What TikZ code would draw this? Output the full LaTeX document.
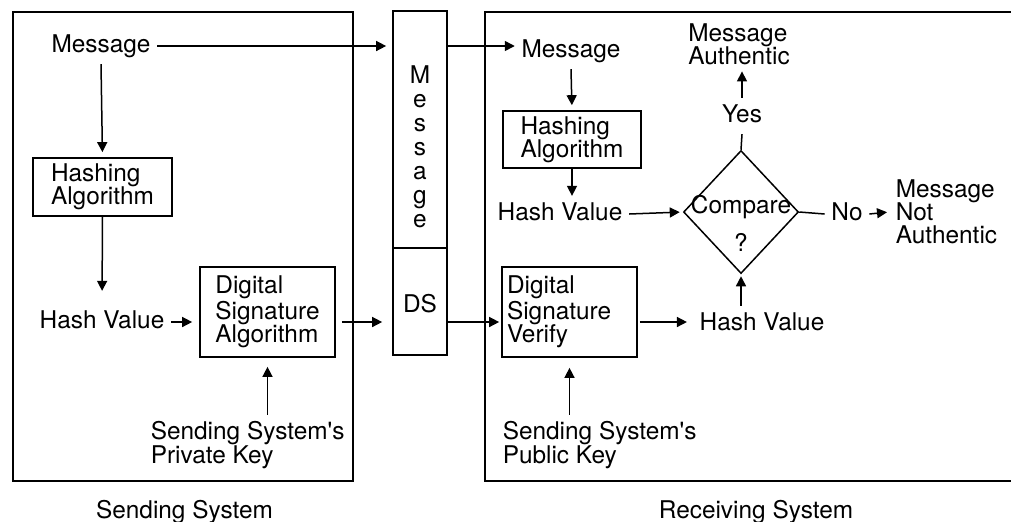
\documentclass[tikz,border=0pt]{standalone}
\usepackage{fontspec}
\setmainfont{TeX Gyre Heros}
\usetikzlibrary{arrows.meta,shapes.geometric}

\begin{document}
\begin{tikzpicture}[x=0.5pt,y=-0.5pt,
	font=\fontsize{12.2}{11.6}\selectfont,
	>={Triangle[length=5pt,width=5pt]},
	line width=0.75pt,
	txt/.style={inner sep=3pt,text height=8.8pt,text depth=2.6pt},
	mtxt/.style={inner sep=3pt,align=left},
	box/.style={draw,line width=0.85pt,inner sep=0pt}]
				\useasboundingbox (0,0) rectangle (1011,521);
				%draw frames
				\draw[line width=0.85pt] (13,12) rectangle (353,481);
				\draw[line width=0.85pt] (1015,12) -- (485,12) -- (485,481) -- (1015,481);
				%draw sending system
				\node[txt] (msgS) at (101,46) {Message};
				\node[box,minimum width=69.5pt,minimum height=29pt,align=left] (hashS) at (102.5,187) {Hashing\\Algorithm};
				\node[txt] (hvS) at (102,322) {Hash Value};
				\node[box,minimum width=67.5pt,minimum height=45pt,align=left] (dsa) at (267.5,312) {Digital\\Signature\\Algorithm};
				\node[mtxt,anchor=west] (privkey) at (144,445) {Sending System\textquotesingle s\\Private Key};
				\node (sendlbl) at (184.5,512) {Sending System};
				%draw message and signature
				\node[box,minimum width=27pt,minimum height=118.5pt] (msgcol) at (420,129.5) {};
				\node[align=center,font=\fontsize{12.2}{12}\selectfont] (msgtxt) at (420,147) {M\\e\\s\\s\\a\\g\\e};
				\node[box,minimum width=27pt,minimum height=53.5pt,text height=11.5pt] (dscol) at (420,301.5) {DS};
				%draw receiving system
				\node[txt] (msgR) at (571,51) {Message};
				\node[box,minimum width=69pt,minimum height=28.5pt,align=left] (hashR) at (572,139.5) {Hashing\\Algorithm};
				\node[txt] (hvR) at (560,214) {Hash Value};
				\node[draw,diamond,inner sep=0pt,minimum width=57.5pt,minimum height=61.5pt] (cmp) at (741,212) {};
				\node[txt] (cmptxt) at (741,207) {Compare};
				\node[txt] (cmpq) at (741,245) {?};
				\node[txt] (yes) at (742,116) {Yes};
				\node[mtxt] (auth) at (739,44) {Message\\Authentic};
				\node[txt] (no) at (847,214) {No};
				\node[mtxt,anchor=west] (notauth) at (889,212) {Message\\Not\\Authentic};
				\node[box,minimum width=67.5pt,minimum height=45pt,text width=62.5pt,inner xsep=2.5pt,align=left] (dsv) at (569.5,312) {Digital\\Signature\\Verify};
				\node[txt] (hvL) at (762,324) {Hash Value};
				\node[mtxt,anchor=west] (pubkey) at (496,445) {Sending System\textquotesingle s\\Public Key};
				\node (recvlbl) at (756,512) {Receiving System};
				%draw arrows
				\draw[->,shorten >=3pt] (msgS.east) -- (msgS.east -| msgcol.west);
				\draw[->,shorten >=2.5pt] (msgS.south) -- (hashS.north);
				\draw[->,shorten >=6.5pt] (hashS.south) -- (hvS.north);
				\draw[->,shorten >=3.5pt] (hvS.east) -- (hvS.east -| dsa.west);
				\draw[->,shorten <=3pt,shorten >=5pt] (dsa.east |- hvS.east) -- (dscol.west |- hvS.east);
				\draw[->,shorten >=4.5pt] (privkey.north -| dsa.south) -- (dsa.south);
				\draw[->] (msgcol.east |- msgS.east) -- (msgR.west |- msgS.east);
				\draw[->,shorten >=2.5pt] (msgR.south) -- (hashR.north);
				\draw[->] (hashR.south) -- (hashR.south |- hvR.north);
				\draw[->,shorten >=1.5pt] (hvR.east) -- (cmp.west);
				\draw[->,shorten >=1pt] (dscol.east |- hvS.east) -- (dsv.west |- hvS.east);
				\draw[->,shorten <=1pt,shorten >=3pt] (dsv.east |- hvS.east) -- (hvL.west |- hvS.east);
				\draw[->,shorten >=1pt] (hvL.north -| cmp.south) -- (cmp.south);
				\draw[->,shorten >=5pt] (pubkey.north -| dsv.south) -- (dsv.south);
				\draw (cmp.north) -- (yes.south);
				\draw[->] (yes.north) -- (yes.north |- auth.south);
				\draw (cmp.east) -- (no.west);
				\draw[->,shorten >=1pt] (no.east) -- (notauth.west);
\end{tikzpicture}
\end{document}
